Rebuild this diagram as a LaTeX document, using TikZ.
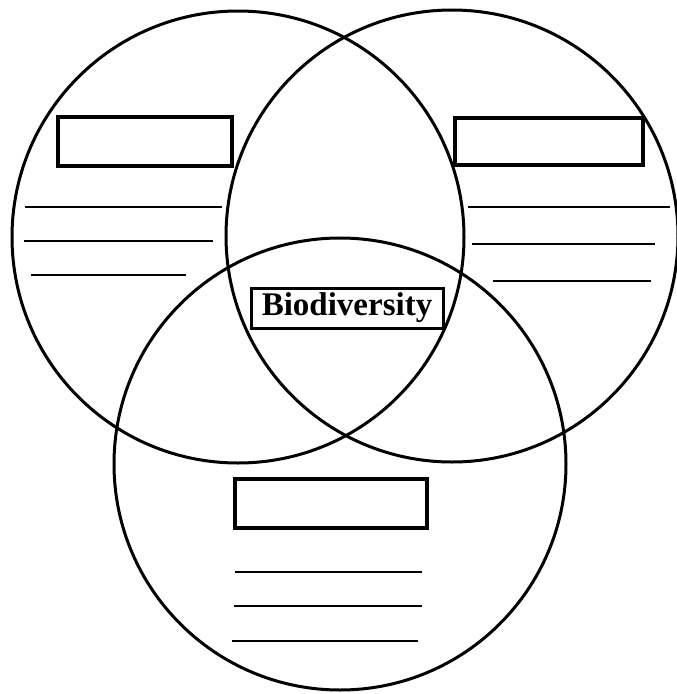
\documentclass[tikz,border=0pt]{standalone}
\usepackage{fontspec}
\setmainfont{Liberation Serif}
\begin{document}
\begin{tikzpicture}[x=1pt,y=-1pt,
  ring/.style={draw,circle,line width=3pt,minimum size=452pt,inner sep=0pt},
  blank/.style={draw,rectangle,line width=3.5pt,inner sep=0pt},
  rule/.style={line width=1.3pt}]
\useasboundingbox (0,0) rectangle (677,694);
\node[ring] (cl) at (238,237) {};
\node[ring] (cr) at (452,236) {};
\node[ring] (cb) at (340,464) {};
% label boxes
\node[blank,minimum width=174pt,minimum height=49pt] (bl) at (145,141.5) {};
\node[blank,minimum width=188pt,minimum height=47pt] (br) at (549,141.5) {};
\node[blank,minimum width=192pt,minimum height=49pt] (bb) at (331,503.5) {};
\node[blank,line width=3pt,minimum width=192pt,minimum height=40pt] (bio) at (347,308)
  {\fontsize{33}{33}\selectfont\bfseries Biodiversity};
% writing lines, left
\coordinate (l1a) at (25,207); \coordinate (l1b) at (222,207);
\coordinate (l2a) at (24,241); \coordinate (l2b) at (213,241);
\coordinate (l3a) at (31,275); \coordinate (l3b) at (186,275);
\draw[rule] (l1a) -- (l1b); \draw[rule] (l2a) -- (l2b); \draw[rule] (l3a) -- (l3b);
% right
\coordinate (r1a) at (468,207); \coordinate (r1b) at (670,207);
\coordinate (r2a) at (472,244); \coordinate (r2b) at (655,244);
\coordinate (r3a) at (493,281); \coordinate (r3b) at (651,281);
\draw[rule] (r1a) -- (r1b); \draw[rule] (r2a) -- (r2b); \draw[rule] (r3a) -- (r3b);
% bottom
\coordinate (m1a) at (235,572); \coordinate (m1b) at (422,572);
\coordinate (m2a) at (234,606); \coordinate (m2b) at (422,606);
\coordinate (m3a) at (232,641); \coordinate (m3b) at (418,641);
\draw[rule] (m1a) -- (m1b); \draw[rule] (m2a) -- (m2b); \draw[rule] (m3a) -- (m3b);
\end{tikzpicture}
\end{document}
